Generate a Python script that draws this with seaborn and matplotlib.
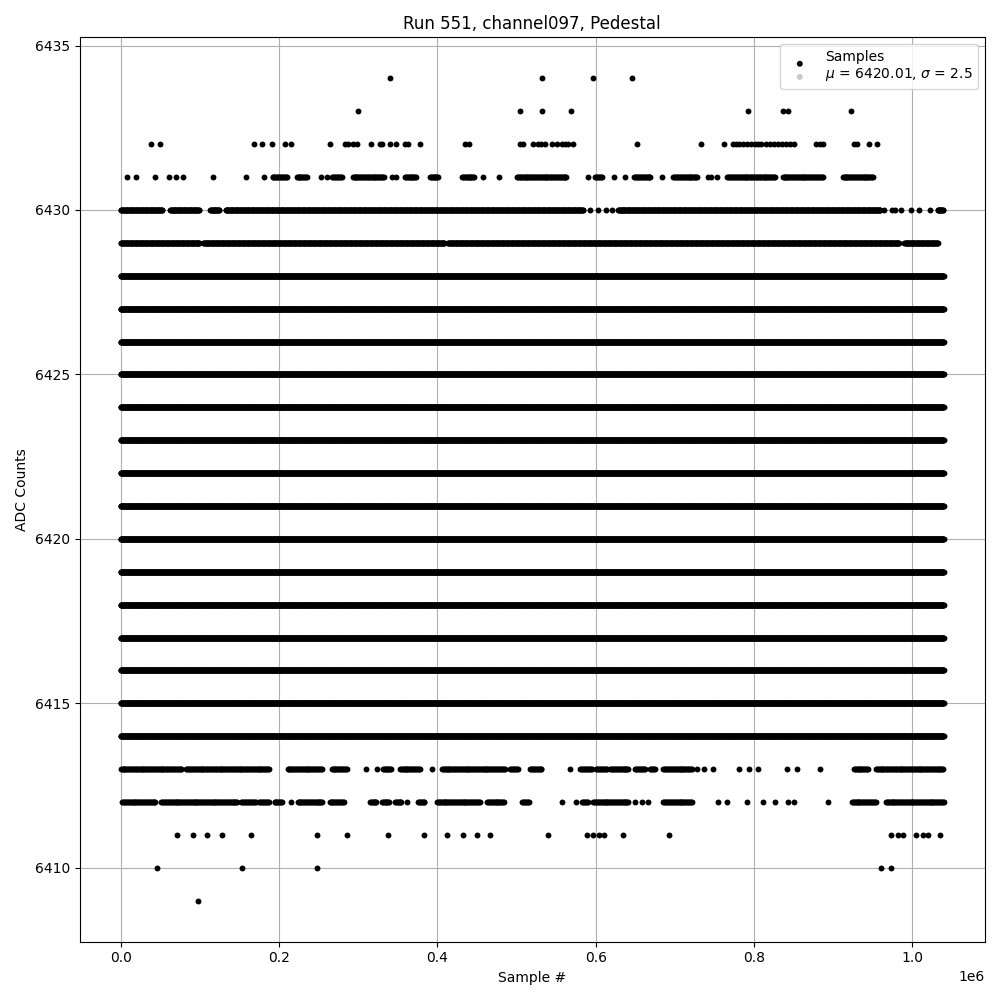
import numpy as np
import pandas as pd
import matplotlib
matplotlib.use("Agg")
import matplotlib.pyplot as plt
import seaborn as sns
from matplotlib.legend_handler import HandlerPathCollection

# ---------------- data (sample positions in thousands of samples) ----------------
N_SAMPLES = 1_040_000
TITLE = "Run 551, channel097, Pedestal"
LEGEND_LABEL = "Samples\n$\\mu$ = 6420.01, $\\sigma$ = 2.5"

# ADC levels that are occupied over the whole run
full_levels = list(range(6414, 6429))

# isolated samples / occupied stretches per ADC level (k-samples)
pts_6434 = [340, 532, 596, 646]
pts_6433 = [299.4, 504.4, 532.3, 569.0, 791.8, 836.1, 842.4, 922.1]
pts_6432 = [38.6, 50.0, 169.0, 179.1, 190.5, 207.0, 214.6, 263.9, 282.9, 286.7,
            293.0, 298.1, 315.8, 327.2, 329.7, 339.9, 347.5, 358.9, 362.7, 377.8,
            434.8, 439.9, 504.4, 508.2, 520.9, 527.2, 531.0, 536.1, 544.9, 551.3,
            557.6, 561.4, 565.2, 571.5, 652.5, 733.5, 761.4, 772.8, 777.8, 781.6,
            785.4, 790.5, 795.6, 800.6, 804.4, 808.2, 814.5, 819.6, 824.7, 829.7,
            834.8, 839.9, 844.9, 850.0, 877.8, 882.9, 886.7, 925.9, 929.7, 944.9, 955.0]
pts_6431 = [8.2, 19.6, 43.7, 61.4, 70.3, 79.1, 117.1, 158.9, 181.6, 253.4, 261.0,
            342.4, 347.5, 457.6, 477.8, 590.5, 623.4, 637.3, 684.2, 741.2, 745.0, 753.8]
seg_6431 = [[191.8, 210.8], [222.2, 236.1], [267.5, 280.2], [293.0, 333.5],
            [358.9, 374.1], [390.4, 401.8], [431.0, 447.5], [500.6, 563.9],
            [599.3, 608.2], [648.7, 670.2], [698.1, 728.5], [766.4, 827.2],
            [836.1, 886.7], [911.9, 951.1]]
seg_6430 = [[0, 52.5], [62.7, 99.4], [113.2, 124.9], [132.6, 584.1],
            [628.5, 959.6], [1031.8, 1039.4]]
pts_6430 = [593.0, 603.1, 613.3, 620.9, 964.7, 973.6, 978.6, 986.2, 997.6, 1007.8, 1021.7]
seg_6429 = [[0, 99.4], [104.4, 409.5], [413.3, 983.7], [990.0, 1032.3]]
seg_6413 = [[0, 77.8], [82.9, 188.0], [210.8, 255.1], [266.5, 286.7], [331.0, 342.4],
            [352.6, 377.8], [405.6, 485.4], [491.8, 501.9], [517.1, 532.3],
            [580.4, 595.6], [600.7, 614.6], [618.4, 641.2], [650.0, 662.7],
            [669.0, 675.4], [685.5, 722.3], [926.0, 944.9], [953.8, 1039.9]]
pts_6413 = [309.4, 323.3, 393.0, 567.7, 727.3, 736.2, 747.6, 781.6, 793.0, 804.4,
            841.2, 853.9, 883.0]
seg_6412 = [[1.9, 44.9], [51.3, 147.5], [152.5, 171.5], [175.3, 188.0], [194.3, 204.4],
            [223.5, 255.1], [263.9, 282.9], [314.6, 323.3], [329.7, 339.9],
            [346.2, 355.1], [375.3, 384.2], [399.4, 453.8], [462.7, 485.4],
            [507.0, 515.8], [583.0, 590.5], [596.8, 641.2], [685.5, 722.3],
            [923.5, 953.8], [966.5, 1039.9]]
pts_6412 = [214.6, 361.5, 557.6, 575.3, 650.0, 658.9, 666.5, 755.0, 765.2, 790.5,
            810.8, 826.0, 842.4, 850.0, 893.0]
pts_6411 = [71.5, 91.8, 109.5, 128.5, 165.2, 247.5, 285.4, 337.4, 383.0, 412.1, 432.3,
            450.1, 466.5, 539.9, 589.2, 596.8, 604.4, 610.8, 634.8, 693.0, 972.8,
            981.3, 987.6, 1004.4, 1012.9, 1019.2, 1035.2]
pts_6410 = [46.2, 153.8, 247.5, 960.2, 972.8]
pts_6409 = [98.1]

# ---------------- assemble samples ----------------
STEP_FULL = 500       # sample stride used to render a fully occupied level
STEP_DENSE = 700      # stride for the nearly full edge levels
STEP_SEG = 1200       # stride inside an occupied stretch of a sparse level

xs, ys = [], []


def add_points(level, pts):
    for p in pts:
        xs.append(int(round(p * 1000)))
        ys.append(level)


def add_segments(level, segs, step=STEP_SEG):
    for a, b in segs:
        s = np.arange(int(a * 1000), int(b * 1000) + 1, step)
        xs.extend(s.tolist())
        ys.extend([level] * len(s))


for lvl in full_levels:
    add_segments(lvl, [[0, (N_SAMPLES - 1) / 1000]], STEP_FULL)

add_points(6434, pts_6434)
add_points(6433, pts_6433)
add_points(6432, pts_6432)
add_points(6431, pts_6431)
add_segments(6431, seg_6431)
add_segments(6430, seg_6430, STEP_DENSE)
add_points(6430, pts_6430)
add_segments(6429, seg_6429, STEP_DENSE)
add_segments(6413, seg_6413)
add_points(6413, pts_6413)
add_segments(6412, seg_6412)
add_points(6412, pts_6412)
add_points(6411, pts_6411)
add_points(6410, pts_6410)
add_points(6409, pts_6409)

df = pd.DataFrame({"sample": xs, "adc": ys})

# ---------------- plot ----------------
fig, ax = plt.subplots(figsize=(10, 10), dpi=100)
ax.set_axisbelow(True)
ax.grid(True, color="#b0b0b0", linewidth=0.8)

sns.scatterplot(data=df, x="sample", y="adc", color="black", s=18,
                linewidth=0, label=LEGEND_LABEL, ax=ax, legend=False)

ax.set_title(TITLE, fontsize=12)
ax.set_xlabel("Sample #")
ax.set_ylabel("ADC Counts")


class StackedHandler(HandlerPathCollection):
    def get_xdata(self, legend, xdescent, ydescent, width, height, fontsize):
        n = self.get_numpoints(legend)
        x = [-xdescent + width / 2.0] * n
        return x, x


handles, labels = ax.get_legend_handles_labels()
leg = ax.legend(handles, labels, loc="upper right", scatterpoints=2,
                scatteryoffsets=[0.85, -0.5],
                handler_map={type(handles[0]): StackedHandler()})
leg.legend_handles[0].set_facecolors(["black", "#c8c8c8"])
leg.legend_handles[0].set_edgecolors(["black", "#c8c8c8"])

fig.tight_layout()
fig.savefig("out.png", dpi=100)
